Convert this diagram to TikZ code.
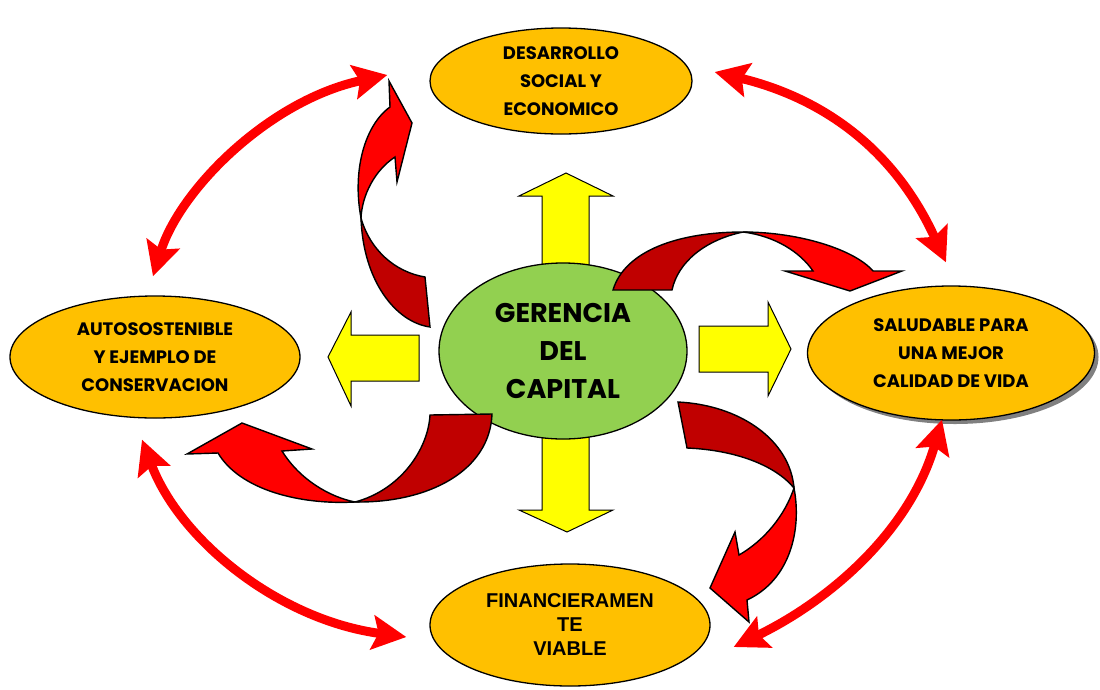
\documentclass[tikz,border=0pt]{standalone}
\usepackage{fontspec}
\setmainfont{Liberation Sans}
\newfontfamily\gothic{Poppins}
\usetikzlibrary{shapes.geometric,arrows.meta,shadows}
\definecolor{gold}{HTML}{FFC000}
\definecolor{leaf}{HTML}{92D050}
\definecolor{lemon}{HTML}{FFFF00}
\definecolor{scarlet}{HTML}{FF0000}
\definecolor{maroon}{HTML}{C00000}
\tikzset{
  goal/.style={ellipse, draw, line width=1.3pt, fill=gold, inner sep=0pt},
  goaltext/.style={align=center, font=\gothic\bfseries\fontsize{18}{28}\selectfont},
  bigarrow/.style={draw, line width=1pt, fill=lemon},
  twistback/.style={draw, line width=1.4pt, fill=maroon},
  twisthead/.style={draw, line width=1.4pt, fill=scarlet},
  link/.style={scarlet, line width=9pt,
    {Stealth[length=34pt,width=34pt,inset=6pt]}-{Stealth[length=34pt,width=34pt,inset=6pt]}}
}

\begin{document}
\begin{tikzpicture}[x=1pt,y=-1pt]
\useasboundingbox (0,0) rectangle (1100,689);

\draw[bigarrow] (542,268) -- (542,196) -- (519,196) -- (566,173) -- (613,196) -- (589,196) -- (589,268) -- cycle;
\draw[bigarrow] (542,434) -- (542,510) -- (519,510) -- (567,532) -- (613,510) -- (589,510) -- (589,434) -- cycle;
\draw[bigarrow] (419,335) -- (351,335) -- (351,312) -- (328,357) -- (351,406) -- (351,381) -- (419,381) -- cycle;
\draw[bigarrow] (699,326) -- (768,326) -- (768,302) -- (791,349) -- (768,396) -- (768,372) -- (699,372) -- cycle;

\node[ellipse, draw, line width=1.3pt, fill=leaf, minimum width=248pt, minimum height=176pt] (gerencia) at (563,351) {};
\node[align=center, font=\gothic\bfseries\fontsize{27}{38}\selectfont] at (gerencia) {GERENCIA\\DEL\\CAPITAL};

\node[goal, minimum width=262pt, minimum height=106pt] (desarrollo) at (561,81) {};
\node[goaltext] at (desarrollo) {DESARROLLO\\SOCIAL Y\\ECONOMICO};
\node[goal, minimum width=290pt, minimum height=122pt] (autos) at (155,357) {};
\node[goaltext] at (autos) {AUTOSOSTENIBLE\\Y EJEMPLO DE\\CONSERVACION};
\node[goal, minimum width=287pt, minimum height=134pt,
  drop shadow={shadow xshift=4pt, shadow yshift=-4pt, fill=gray, opacity=1}] (saludable) at (951,353) {};
\node[goaltext] at (saludable) {SALUDABLE PARA\\UNA MEJOR\\CALIDAD DE VIDA};
\node[goal, minimum width=280pt, minimum height=122pt] (financiera) at (570,625) {};
\node[align=center, font=\bfseries\fontsize{20}{24}\selectfont] at (financiera) {FINANCIERAMEN\\TE\\VIABLE};

\draw[twistback] (361,218) .. controls (363,280) and (395,322) .. (430,327) -- (425,277)
  .. controls (395,272) and (370,250) .. (361,218) -- cycle;
\draw[twisthead] (361,218) .. controls (352,170) and (365,125) .. (390,107) -- (389,81) -- (412,123)
  -- (397,182) -- (395,157) .. controls (375,170) and (362,195) .. (361,218) -- cycle;

\draw[twistback] (613,290) .. controls (625,250) and (680,232) .. (743,232)
  .. controls (705,240) and (678,262) .. (672,290) -- cycle;
\draw[twisthead] (743,232) .. controls (800,232) and (855,250) .. (873,271) -- (902,271) -- (850,291)
  -- (785,271) -- (813,271) .. controls (800,252) and (775,236) .. (743,232) -- cycle;

\draw[twistback] (492,414) .. controls (490,470) and (430,503) .. (355,502)
  .. controls (400,490) and (428,450) .. (430,415) -- cycle;
\draw[twisthead] (355,502) .. controls (300,505) and (240,490) .. (218,453) -- (187,454) -- (242,423)
  -- (312,449) -- (282,451) .. controls (300,480) and (330,497) .. (355,502) -- cycle;

\draw[twistback] (678,402) .. controls (740,405) and (790,440) .. (794,488)
  .. controls (775,465) and (735,450) .. (687,448) -- cycle;
\draw[twisthead] (794,488) .. controls (802,530) and (790,580) .. (747,600) -- (749,622) -- (710,588)
  -- (735,532) -- (739,555) .. controls (765,540) and (785,515) .. (794,488) -- cycle;

\draw[link] ([xshift=-2pt,yshift=19pt]autos.north) .. controls +(27,-87) and +(-118,25) .. ([xshift=-42pt,yshift=6pt]desarrollo.west);
\draw[link] ([xshift=22pt,yshift=9pt]desarrollo.east) .. controls +(96,23) and +(-56,-123) .. ([xshift=-5pt,yshift=23pt]saludable.north);
\draw[link] ([xshift=-13pt,yshift=-21pt]autos.south) .. controls +(38,101) and +(-127,-17) .. ([xshift=-23pt,yshift=-12pt]financiera.west);
\draw[link] ([xshift=-9pt,yshift=1pt]saludable.south) .. controls +(-32,111) and +(97,-47) .. ([xshift=23pt,yshift=-22pt]financiera.east);
\end{tikzpicture}
\end{document}
